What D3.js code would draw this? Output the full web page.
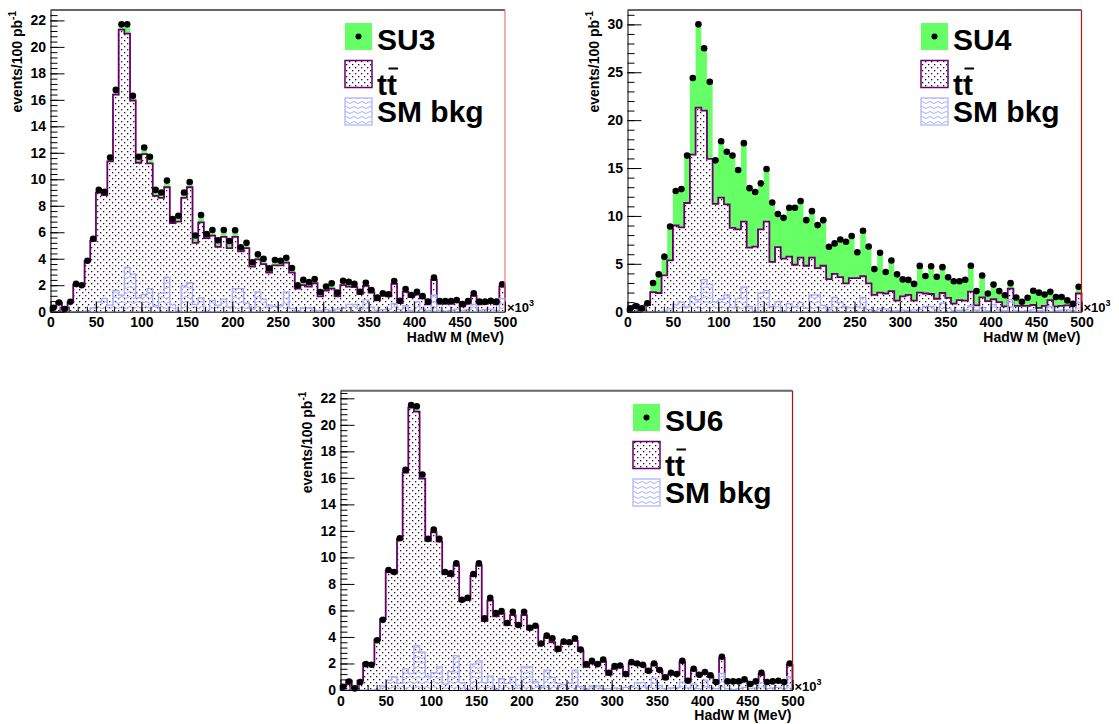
<!DOCTYPE html>
<html>
<head>
<meta charset="utf-8">
<script src="https://cdn.jsdelivr.net/npm/d3@7"></script>
<style>
  body { margin: 0; background: #fff; }
  svg { display: block; }
  text { font-family: "Liberation Sans", Arial, Helvetica, sans-serif; font-weight: bold; fill: #000; }
</style>
</head>
<body>
<svg id="chart" width="1119" height="724"></svg>
<script>
// Hadronic W candidate mass, 80 bins of 6.25 (x10^3 MeV) from 0 to 500.
const binWidth = 6.25;
const xTickLabels = [0, 50, 100, 150, 200, 250, 300, 350, 400, 450, 500];

// ttbar (stacked outline) per bin, events / 100 pb^-1
const ttbar = [
  0.3, 0.7, 0.15, 0.7, 2.05, 1.95, 3.8, 5.35, 9.0, 8.8,
  11.35, 16.4, 21.3, 21.0, 15.95, 11.25, 11.9, 11.2, 8.75, 8.6,
  9.4, 6.7, 6.8, 8.6, 9.4, 5.2, 6.75, 5.55, 5.75, 4.9,
  5.65, 4.8, 5.65, 4.55, 4.8, 3.4, 3.95, 3.6, 2.95, 3.5,
  3.5, 3.7, 2.95, 1.75, 2.0, 1.9, 2.15, 1.15, 1.6, 1.75,
  1.15, 2.0, 1.9, 1.85, 1.35, 1.95, 1.45, 0.85, 1.2, 1.15,
  2.1, 0.65, 1.5, 1.1, 1.3, 1.0, 0.55, 2.4, 0.6, 0.6,
  0.6, 0.7, 0.4, 0.6, 1.2, 0.55, 0.6, 0.65, 0.55, 1.9
];

// other Standard Model background per bin
const smBkg = [
  0, 0, 0, 0, 0, 0, 0.05, 0.3, 0.75, 1.0,
  0.5, 1.6, 1.25, 3.35, 2.85, 1.05, 1.3, 1.75, 0.45, 1.4,
  2.6, 0.55, 0.05, 1.95, 2.2, 0.55, 1.05, 0.05, 0.85, 0.5,
  0.95, 0.35, 1.75, 1.75, 0.65, 0.2, 1.5, 0.95, 0.5, 0.4,
  0.5, 1.5, 0.25, 0.05, 0.3, 0.3, 0.1, 0.1, 0.15, 0.1,
  0.2, 0.25, 0.55, 0.55, 0.2, 0.9, 0.35, 0.1, 0.15, 0.2,
  0.6, 0.15, 0.45, 0.1, 0.75, 0.2, 0.1, 1.25, 0.1, 0.05,
  0.1, 0.2, 0.1, 0.15, 0.55, 0.1, 0.15, 0.2, 0.1, 1.0
];

// signal + background totals per bin
const su3Total = [
  0.3, 0.7, 0.2, 0.75, 2.1, 2.0, 3.85, 5.5, 9.2, 9.05,
  11.65, 16.75, 21.7, 21.7, 16.3, 11.7, 12.4, 11.7, 9.2, 9.0,
  9.9, 7.0, 7.25, 9.0, 9.8, 5.75, 7.3, 5.87, 6.17, 5.4,
  6.17, 5.34, 6.15, 4.86, 5.2, 3.73, 4.33, 4.0, 3.27, 3.9,
  3.85, 4.08, 3.3, 2.0, 2.4, 2.24, 2.47, 1.49, 1.9, 2.14,
  1.44, 2.34, 2.25, 2.1, 1.51, 2.19, 1.64, 1.06, 1.39, 1.31,
  2.32, 0.83, 1.71, 1.26, 1.51, 1.18, 0.76, 2.57, 0.81, 0.81,
  0.81, 0.88, 0.58, 0.81, 1.39, 0.76, 0.76, 0.83, 0.76, 2.07
];
const su4Total = [
  0.35, 0.6, 0.35, 0.87, 3.0, 3.9, 5.75, 8.9, 12.6, 12.8,
  16.3, 24.4, 30.0, 27.5, 24.0, 15.8, 17.8, 16.7, 16.3, 14.8,
  17.6, 12.9, 12.5, 13.4, 14.9, 11.4, 10.2, 9.8, 10.85, 10.85,
  11.55, 9.56, 10.5, 9.04, 9.56, 6.78, 7.13, 7.54, 7.3, 7.9,
  6.2, 8.45, 6.8, 4.45, 6.15, 4.15, 5.35, 3.9, 3.37, 3.32,
  2.9, 4.78, 3.73, 4.75, 3.65, 4.65, 3.6, 3.18, 3.18, 3.33,
  4.8, 2.15, 3.78, 1.9, 2.83, 2.15, 1.72, 2.98, 1.48, 1.04,
  1.46, 2.18, 1.99, 1.8, 2.07, 1.53, 1.53, 1.18, 0.83, 2.6
];
const su6Total = [
  0.25, 0.63, 0.12, 0.6, 1.95, 1.9, 3.75, 5.3, 9.05, 8.9,
  11.45, 16.6, 21.5, 21.4, 16.25, 11.4, 12.1, 11.4, 8.9, 8.8,
  9.55, 6.8, 6.95, 8.75, 9.55, 5.4, 6.95, 5.8, 5.95, 5.05,
  5.9, 4.9, 5.9, 4.7, 4.85, 3.5, 4.1, 3.9, 3.1, 3.65,
  3.6, 3.9, 3.05, 1.95, 2.2, 1.95, 2.3, 1.3, 1.8, 1.85,
  1.2, 2.1, 2.0, 1.9, 1.45, 2.0, 1.5, 0.95, 1.3, 1.2,
  2.2, 0.7, 1.6, 1.15, 1.35, 1.1, 0.6, 2.5, 0.65, 0.65,
  0.65, 0.8, 0.45, 0.65, 1.3, 0.6, 0.65, 0.7, 0.6, 2.0
];

const signalNames = ["SU3", "SU4", "SU6"];

const GREEN = "#66ff66";
const TT_LINE = "#660066";
const TT_DOT = "#2e0630";
const SM_LINE = "#a8aeff";

// pad layout (frame corners) and axis settings
const panels = [
  { name: signalNames[0], total: su3Total, left: 50.5, right: 505, top: 10, bottom: 311.7,
    yMajor: 2, yMinor: 0.4, edge: "#e87a7a", legendX: 345, legendY: 23 },
  { name: signalNames[1], total: su4Total, left: 627.5, right: 1081.5, top: 10, bottom: 311.7,
    yMajor: 5, yMinor: 1, edge: "#cc1111", legendX: 921, legendY: 23 },
  { name: signalNames[2], total: su6Total, left: 340.5, right: 792.5, top: 390.7, bottom: 690,
    yMajor: 2, yMinor: 0.4, edge: "#b01010", legendX: 633, legendY: 404 }
];

const svg = d3.select("#chart");
const defs = svg.append("defs");

// dotted fill for ttbar (staggered lattice)
const dots = defs.append("pattern").attr("id", "ttDots")
  .attr("patternUnits", "userSpaceOnUse").attr("width", 6).attr("height", 6);
dots.append("rect").attr("x", 1).attr("y", 1).attr("width", 1.3).attr("height", 1.3).attr("fill", TT_DOT);
dots.append("rect").attr("x", 4).attr("y", 4).attr("width", 1.3).attr("height", 1.3).attr("fill", TT_DOT);

// wavy fill for SM background
const waves = defs.append("pattern").attr("id", "smWaves")
  .attr("patternUnits", "userSpaceOnUse").attr("width", 8).attr("height", 5);
waves.append("path").attr("d", "M0,2.5 Q2,0.5 4,2.5 T8,2.5")
  .attr("fill", "none").attr("stroke", SM_LINE).attr("stroke-width", 1);

function stepPath(values, x, y, closed) {
  let d = `M${x(0)},${y(0)}`;
  values.forEach((v, i) => {
    d += `L${x(i * binWidth)},${y(v)}L${x((i + 1) * binWidth)},${y(v)}`;
  });
  d += `L${x(values.length * binWidth)},${y(0)}`;
  return closed ? d + "Z" : d;
}

function bandPath(lower, upper, x, y) {
  // closed band between two step histograms
  let d = "";
  upper.forEach((v, i) => {
    d += (i === 0 ? "M" : "L") + `${x(i * binWidth)},${y(v)}L${x((i + 1) * binWidth)},${y(v)}`;
  });
  for (let i = lower.length - 1; i >= 0; i--) {
    d += `L${x((i + 1) * binWidth)},${y(lower[i])}L${x(i * binWidth)},${y(lower[i])}`;
  }
  return d + "Z";
}

panels.forEach(p => {
  const g = svg.append("g");
  const yMax = d3.max(p.total) * 1.05;
  const x = d3.scaleLinear().domain([0, 500]).range([p.left, p.right]);
  const y = d3.scaleLinear().domain([0, yMax]).range([p.bottom, p.top]);

  // signal on top of ttbar
  g.append("path").attr("d", bandPath(ttbar, p.total, x, y)).attr("fill", GREEN);

  // ttbar: white base, dots, outline
  g.append("path").attr("d", stepPath(ttbar, x, y, true)).attr("fill", "#fff");
  g.append("path").attr("d", stepPath(ttbar, x, y, true)).attr("fill", "url(#ttDots)");
  g.append("path").attr("d", stepPath(ttbar, x, y, false))
    .attr("fill", "none").attr("stroke", TT_LINE).attr("stroke-width", 1.8);

  // SM background
  g.append("path").attr("d", stepPath(smBkg, x, y, true)).attr("fill", "url(#smWaves)");
  g.append("path").attr("d", stepPath(smBkg, x, y, false))
    .attr("fill", "none").attr("stroke", SM_LINE).attr("stroke-width", 1.3);

  // totals as markers
  g.append("g").selectAll("circle").data(p.total).join("circle")
    .attr("cx", (d, i) => x((i + 0.5) * binWidth))
    .attr("cy", d => y(d))
    .attr("r", 3.3)
    .attr("fill", "#000");

  // frame: grey top, red right edge
  g.append("line").attr("x1", p.left).attr("x2", p.right).attr("y1", p.top).attr("y2", p.top)
    .attr("stroke", "#666").attr("stroke-width", 2);
  g.append("line").attr("x1", p.right).attr("x2", p.right).attr("y1", p.top).attr("y2", p.bottom)
    .attr("stroke", p.edge).attr("stroke-width", 1.2);

  // x axis: minor ticks, then major ticks with labels
  const xMinorTicks = d3.range(0, 501, 10);
  g.append("g").attr("transform", `translate(0,${p.bottom})`)
    .call(d3.axisBottom(x).tickValues(xMinorTicks).tickSize(-5).tickSizeOuter(0).tickFormat(""))
    .call(a => a.select(".domain").remove());
  const xa = g.append("g").attr("transform", `translate(0,${p.bottom})`)
    .call(d3.axisBottom(x).tickValues(xTickLabels).tickSize(-10).tickSizeOuter(0).tickPadding(5.8));
  xa.select(".domain").attr("stroke", "#000");
  xa.selectAll("text").style("font-size", "14px").attr("font-weight", "bold");

  // y axis
  const yMinorTicks = d3.range(0, yMax + 1e-9, p.yMinor);
  g.append("g").attr("transform", `translate(${p.left},0)`)
    .call(d3.axisLeft(y).tickValues(yMinorTicks).tickSize(-7).tickSizeOuter(0).tickFormat(""))
    .call(a => a.select(".domain").remove());
  const ya = g.append("g").attr("transform", `translate(${p.left},0)`)
    .call(d3.axisLeft(y).tickValues(d3.range(0, yMax + 1e-9, p.yMajor)).tickSize(-14).tickSizeOuter(0)
      .tickPadding(4.5).tickFormat(d3.format("d")));
  ya.select(".domain").attr("stroke", "#000");
  ya.selectAll("text").style("font-size", "14px");

  // axis titles
  const yt = g.append("text")
    .attr("transform", `translate(${p.left - 28.5},${p.top + 1}) rotate(-90)`)
    .attr("text-anchor", "end").style("font-size", "14px");
  yt.append("tspan").text("events/100 pb");
  yt.append("tspan").text("-1").attr("dy", -6).style("font-size", "10px");

  g.append("text").attr("x", p.right - 1).attr("y", p.bottom + 30)
    .attr("text-anchor", "end").style("font-size", "14px").text("HadW M (MeV)");

  const mult = g.append("text").attr("x", p.right + 2).attr("y", p.bottom + 0.5).style("font-size", "13px");
  mult.append("tspan").text("\u00d710");
  mult.append("tspan").text("3").attr("dy", -6).style("font-size", "9px");

  // legend
  const lx = p.legendX, ly = p.legendY, box = 27, rowH = 37.5, tx = lx + 32;
  g.append("rect").attr("x", lx).attr("y", ly).attr("width", box).attr("height", box).attr("fill", GREEN);
  g.append("circle").attr("cx", lx + box / 2).attr("cy", ly + box / 2).attr("r", 3).attr("fill", "#000");
  g.append("text").attr("x", tx).attr("y", ly + box).style("font-size", "30px").text(p.name);

  const y2 = ly + rowH;
  g.append("rect").attr("x", lx).attr("y", y2).attr("width", box).attr("height", box).attr("fill", "#fff");
  g.append("rect").attr("x", lx).attr("y", y2).attr("width", box).attr("height", box)
    .attr("fill", "url(#ttDots)").attr("stroke", TT_LINE).attr("stroke-width", 1.5);
  const tt = g.append("text").attr("x", tx).attr("y", y2 + 34).style("font-size", "30px").text("tt");
  const tw = tt.node().getComputedTextLength() / 2;
  g.append("line").attr("x1", tx + tw + 1.5).attr("x2", tx + 2 * tw + 1)
    .attr("y1", y2 + 8).attr("y2", y2 + 8).attr("stroke", "#000").attr("stroke-width", 2);

  const y3 = ly + 2 * rowH;
  g.append("rect").attr("x", lx).attr("y", y3).attr("width", box).attr("height", box)
    .attr("fill", "url(#smWaves)").attr("stroke", SM_LINE).attr("stroke-width", 1.2);
  g.append("text").attr("x", tx).attr("y", y3 + 24).style("font-size", "30px").text("SM bkg");
});
</script>
</body>
</html>
